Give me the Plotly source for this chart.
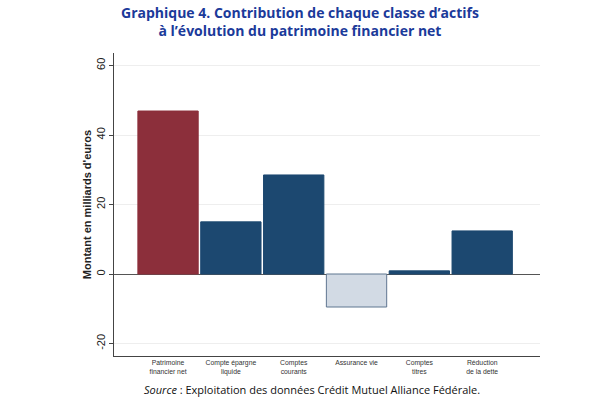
import plotly.graph_objects as go

categories = ["Patrimoine<br>financier net", "Compte épargne<br>liquide", "Comptes<br>courants",
              "Assurance vie", "Comptes<br>titres", "Réduction<br>de la dette"]
values = [46.9, 15.0, 28.5, -9.5, 0.9, 12.4]
colors = ["#8c2f3b", "#1c4870", "#1c4870", "#d2dae4", "#1c4870", "#1c4870"]
line_colors = ["#8c2f3b", "#1c4870", "#1c4870", "#5f7690", "#1c4870", "#1c4870"]
y_ticks = [-20, 0, 20, 40, 60]
y_tick_labels = ["-20", "0", "20", "40", "60"]

fig = go.Figure()
fig.add_trace(go.Bar(
    x=list(range(len(categories))), y=values,
    marker=dict(color=colors, line=dict(color=line_colors, width=1)),
    width=0.96,
))

fig.update_layout(
    width=600, height=399,
    margin=dict(l=114, r=60, t=53, b=43, autoexpand=False),
    paper_bgcolor="white", plot_bgcolor="white",
    showlegend=False,
    xaxis=dict(
        range=[-0.86, 5.92], automargin=False,
        tickmode="array", tickvals=list(range(len(categories))), ticktext=categories,
        tickfont=dict(family="Liberation Sans", size=6.8, color="#333"),
        showline=True, linecolor="#444", linewidth=1,
        showgrid=False, zeroline=False, ticks="",
        tickangle=0,
    ),
    yaxis=dict(
        range=[-23.6, 63.6], automargin=False,
        tickmode="array", tickvals=y_ticks, ticktext=y_tick_labels,
        tickfont=dict(family="Liberation Sans", size=11, color="#222"),
        tickangle=-90,
        showline=True, linecolor="#444", linewidth=1,
        ticks="outside", ticklen=4, tickcolor="#444",
        showgrid=True, gridcolor="#eeeeee", gridwidth=1,
        zeroline=True, zerolinecolor="#555", zerolinewidth=1,
        title=dict(text="<b>Montant en milliards d'euros</b>",
                   font=dict(family="Liberation Sans", size=11, color="#222"),
                   standoff=0),
    ),
    annotations=[
        dict(text="<b>Graphique 4. Contribution de chaque classe d’actifs<br>à l’évolution du patrimoine financier net</b>",
             xref="paper", yref="paper", x=0.437, y=1.172, xanchor="center", yanchor="top",
             showarrow=False, font=dict(family="Open Sans", size=14, color="#1b3a9a")),
        dict(text="<i>Source</i> : Exploitation des données Crédit Mutuel Alliance Fédérale.",
             xref="paper", yref="paper", x=0.465, y=-0.08, xanchor="center", yanchor="top",
             showarrow=False, font=dict(family="Open Sans", size=11, color="#111")),
    ],
)

fig.write_html("out.html", config={"displayModeBar": False},
               post_script="document.body.style.margin='0';")
